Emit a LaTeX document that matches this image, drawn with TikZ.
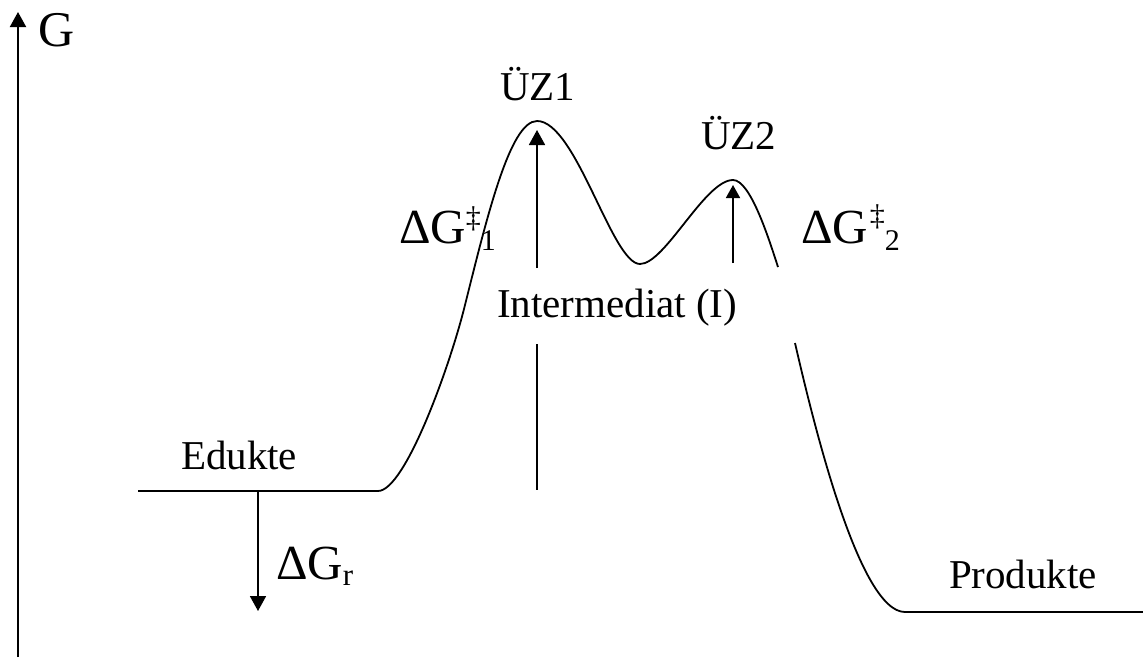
\documentclass[tikz,border=0pt]{standalone}
\usepackage{fontspec}
\setmainfont{Liberation Serif}
\usetikzlibrary{arrows.meta}
\begin{document}
\begin{tikzpicture}[x=1pt,y=-1pt,line width=1.8pt,
  lbl/.style={anchor=base west,inner sep=0pt,outer sep=0pt,font=\fontsize{41}{48}\selectfont},
  dg/.style={anchor=base west,inner sep=0pt,outer sep=0pt,font=\fontsize{49}{56}\selectfont},
  tipped/.style={-{Triangle[length=15pt,width=16pt]}},
  smalltip/.style={-{Triangle[length=13pt,width=14pt]}}]
\useasboundingbox (0,0) rectangle (1143,657);
% axis
\coordinate (ax0) at (18,657);
\coordinate (ax1) at (18,12);
\draw[tipped,line width=2pt] (ax0) -- (ax1);
\node[lbl,font=\fontsize{50}{56}\selectfont] (G) at (38,46) {G};
% labels
\node[lbl] (uz1) at (500,100) {ÜZ1};
\node[lbl] (uz2) at (701,149) {ÜZ2};
\node[lbl] (inter) at (497,317) {Intermediat (I)};
\node[lbl] (edukte) at (181,469) {Edukte};
\node[lbl] (produkte) at (949,588) {Produkte};
\node[dg] (dg1) at (399,243) {ΔG\raisebox{16pt}{\fontsize{30}{30}\selectfont ‡}\raisebox{-7pt}{\fontsize{30}{30}\selectfont 1}};
\node[dg] (dg2) at (801,243) {ΔG\hspace{2pt}\raisebox{18pt}{\fontsize{30}{30}\selectfont ‡}\raisebox{-7pt}{\fontsize{30}{30}\selectfont 2}};
\node[dg] (dgr) at (276,579) {ΔG\raisebox{-6pt}{\fontsize{31}{31}\selectfont r}};
% energy curve
\coordinate (ed0) at (138,491);
\coordinate (ed1) at (378,491);
\coordinate (ts1) at (537,121);
\coordinate (int) at (640,264);
\coordinate (ts2) at (733,180);
\coordinate (c1end) at (778,267);
\draw (ed0) -- (ed1)
  .. controls (405,491) and (450,366) .. (465,305)
  .. controls (487,217) and (510,121) .. (ts1)
  .. controls (576,121) and (612,264) .. (int)
  .. controls (665,264) and (705,180) .. (ts2)
  .. controls (750,180) and (768,236) .. (c1end);
\coordinate (c2start) at (795,343);
\coordinate (pr0) at (905,612);
\coordinate (pr1) at (1143,612);
\draw (c2start) .. controls (815,430) and (860,612) .. (pr0) -- (pr1);
% arrows
\coordinate (r0) at (258,491);
\coordinate (r1) at (258,611);
\draw[tipped] (r0) -- (r1);
\coordinate (a0) at (537,268);
\coordinate (a1) at (537,130);
\draw[tipped] (a0) -- (a1);
\coordinate (v0) at (537,344);
\coordinate (v1) at (537,490);
\draw (v0) -- (v1);
\coordinate (b0) at (733,263);
\coordinate (b1) at (733,185);
\draw[smalltip] (b0) -- (b1);
\end{tikzpicture}
\end{document}
